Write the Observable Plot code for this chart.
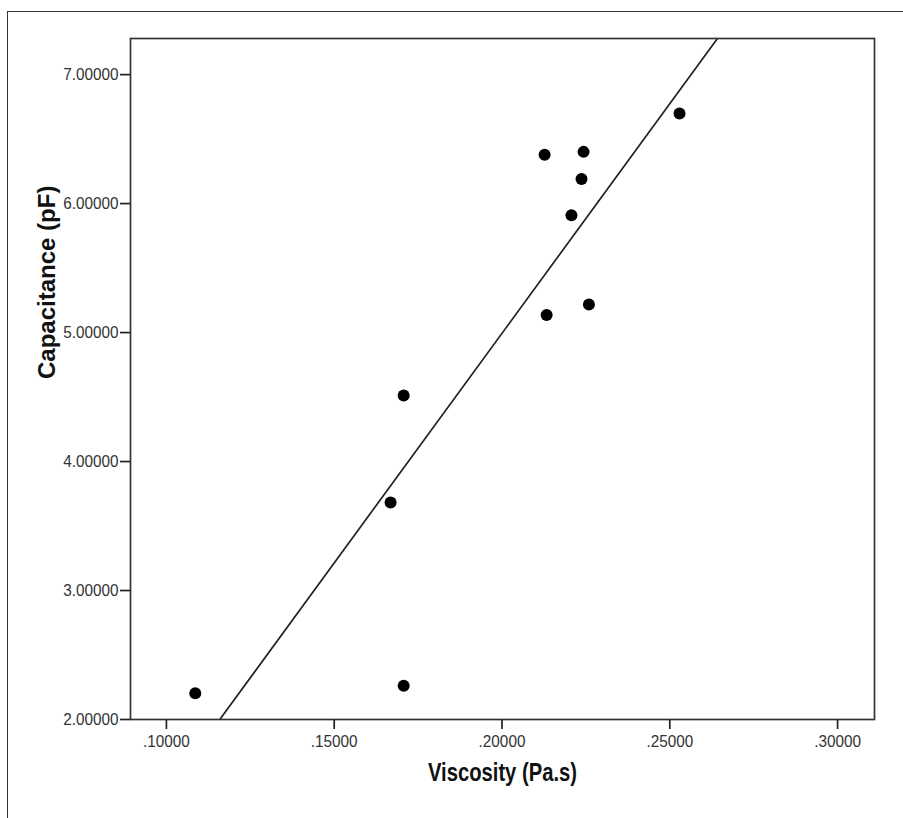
<!DOCTYPE html>
<html>
<head>
<meta charset="utf-8">
<script src="https://cdn.jsdelivr.net/npm/d3@7"></script>
<script src="https://cdn.jsdelivr.net/npm/@observablehq/plot@0.6"></script>
<style>
  html, body { margin: 0; padding: 0; background: #fff; }
  #wrap { position: relative; width: 903px; height: 818px; overflow: hidden; }
  #outer { position: absolute; left: 7px; top: 11px; width: 1000px; height: 1000px;
           border-left: 1.5px solid #333; border-top: 1.5px solid #333; pointer-events: none; }
  #chart { position: absolute; left: 0; top: 0; }
</style>
</head>
<body>
<div id="wrap"><div id="chart"></div><div id="outer"></div></div>
<script>
// Data
const viscosity   = [0.1086, 0.1707, 0.1707, 0.1668, 0.2133, 0.2259, 0.2127, 0.2243, 0.2237, 0.2207, 0.2529];
const capacitance = [2.204, 2.261, 4.512, 3.682, 5.137, 5.217, 6.378, 6.401, 6.191, 5.909, 6.698];
const xTicks = [0.10, 0.15, 0.20, 0.25, 0.30];
const yTicks = [2, 3, 4, 5, 6, 7];
const xTitle = "Viscosity (Pa.s)";
const yTitle = "Capacitance (pF)";

const points = viscosity.map((v, i) => ({x: v, y: capacitance[i]}));

// least-squares fit line
const mx = d3.mean(viscosity), my = d3.mean(capacitance);
const slope = d3.sum(points, d => (d.x - mx) * (d.y - my)) / d3.sum(points, d => (d.x - mx) ** 2);
const intercept = my - slope * mx;
const xDomain = [0.0893, 0.311];
const yDomain = [2, 7.28];
const fit = xDomain.map(x => ({x, y: intercept + slope * x}));

const plot = Plot.plot({
  width: 903,
  height: 818,
  marginLeft: 130,
  marginTop: 38,
  marginRight: 29,
  marginBottom: 99,
  style: {fontFamily: "'Liberation Sans', Arial, sans-serif", fontSize: "17px", background: "white"},
  x: {domain: xDomain},
  y: {domain: yDomain},
  marks: [
    Plot.line(fit, {x: "x", y: "y", stroke: "#222", strokeWidth: 1.7, clip: "frame"}),
    Plot.dot(points, {x: "x", y: "y", r: 6, fill: "#000", stroke: "none"}),
    Plot.frame({stroke: "#333", strokeWidth: 1.7}),
    Plot.axisX({ticks: xTicks, tickFormat: d => d.toFixed(5).replace(/^0/, ""), tickSize: 10, tickPadding: 5,
                stroke: "#222", strokeWidth: 1.7, fill: "#333", fontSize: 17, label: null, className: "ticklab"}),
    Plot.axisY({ticks: yTicks, tickFormat: d => d.toFixed(5), tickSize: 10, tickPadding: 2,
                stroke: "#222", strokeWidth: 1.7, fill: "#333", fontSize: 17, label: null, className: "ticklab"}),
    Plot.text([xTitle], {frameAnchor: "bottom", dy: 61, text: d => d, fontWeight: "bold", fontSize: 25, fill: "#111", className: "xtitle"}),
    Plot.text([yTitle], {frameAnchor: "left", dx: -83, rotate: -90, text: d => d, fontWeight: "bold", fontSize: 24, fill: "#111", className: "ytitle"})
  ]
});
document.getElementById("chart").append(plot);
// the reference's labels use a slightly condensed face: squeeze them to their measured widths
plot.querySelectorAll(".xtitle text").forEach(t => {
  t.setAttribute("textLength", 149);
  t.setAttribute("lengthAdjust", "spacingAndGlyphs");
});
plot.querySelectorAll(".ticklab text").forEach(t => {
  const len = t.getComputedTextLength();
  if (len > 0) {
    t.setAttribute("textLength", (len * 0.9).toFixed(1));
    t.setAttribute("lengthAdjust", "spacingAndGlyphs");
  }
});
</script>
</body>
</html>
